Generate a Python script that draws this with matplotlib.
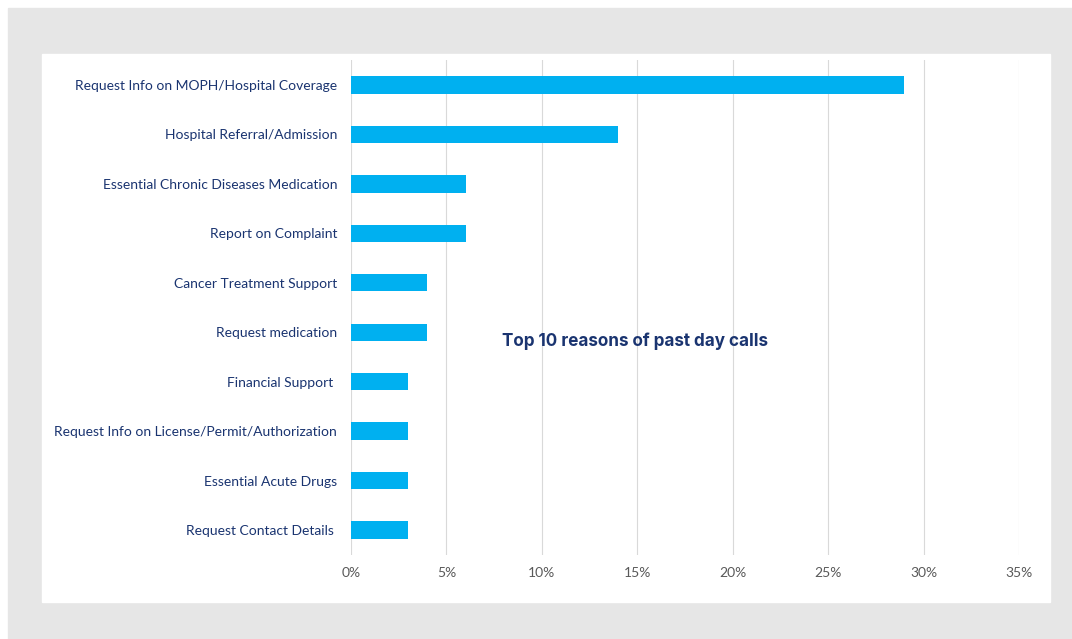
#!/usr/bin/env python3
"""
Top 10 reasons of past day calls - horizontal bar chart
"""
import matplotlib.pyplot as plt
from matplotlib.patches import Rectangle
from matplotlib.ticker import PercentFormatter, MultipleLocator

reasons = [
    "Request Info on MOPH/Hospital Coverage",
    "Hospital Referral/Admission",
    "Essential Chronic Diseases Medication",
    "Report on Complaint",
    "Cancer Treatment Support",
    "Request medication",
    "Financial Support ",
    "Request Info on License/Permit/Authorization",
    "Essential Acute Drugs",
    "Request Contact Details ",
]
shares = [29, 14, 6, 6, 4, 4, 3, 3, 3, 3]

W, H = 1072, 639
navy = "#1a3470"

fig = plt.figure(figsize=(W / 100, H / 100), dpi=100)
fig.patch.set_facecolor("white")
# gray frame and white card
fig.patches.append(Rectangle((8 / W, 0), 1 - 8 / W, 1 - 8 / H,
                             transform=fig.transFigure, color="#e6e6e6",
                             zorder=-3))
fig.patches.append(Rectangle((42 / W, 1 - 602 / H), (1050 - 42) / W,
                             (602 - 54) / H, transform=fig.transFigure,
                             color="white", zorder=-2))

top, bottom = 60.3, 554.7
ax = fig.add_axes([351 / W, 1 - bottom / H, (1019 - 351) / W,
                   (bottom - top) / H])
ax.set_facecolor("none")
ypos = list(range(len(reasons)))
ax.barh(ypos, shares, height=0.35, color="#00b0f0", zorder=3)
ax.set_ylim(len(reasons) - 0.5, -0.5)
ax.set_xlim(0, 35)
ax.xaxis.set_major_locator(MultipleLocator(5))
ax.xaxis.set_major_formatter(PercentFormatter(decimals=0))
ax.set_yticks(ypos)
ax.set_yticklabels(reasons, fontfamily="Lato", fontsize=10, color=navy)
ax.tick_params(axis="y", length=0, pad=10)
ax.tick_params(axis="x", length=0, pad=9, labelsize=10, labelcolor="#595959")
for lbl in ax.get_xticklabels():
    lbl.set_fontfamily("Lato")
ax.grid(axis="x", color="#d9d9d9", linewidth=0.8, zorder=0)
for side in ["top", "right", "bottom", "left"]:
    ax.spines[side].set_visible(False)

fig.text(635 / W, 1 - 341 / H, "Top 10 reasons of past day calls",
         ha="center", va="center", fontsize=12.3, fontweight="bold",
         color=navy, fontfamily="Inter")

fig.savefig("out.png", dpi=100)
